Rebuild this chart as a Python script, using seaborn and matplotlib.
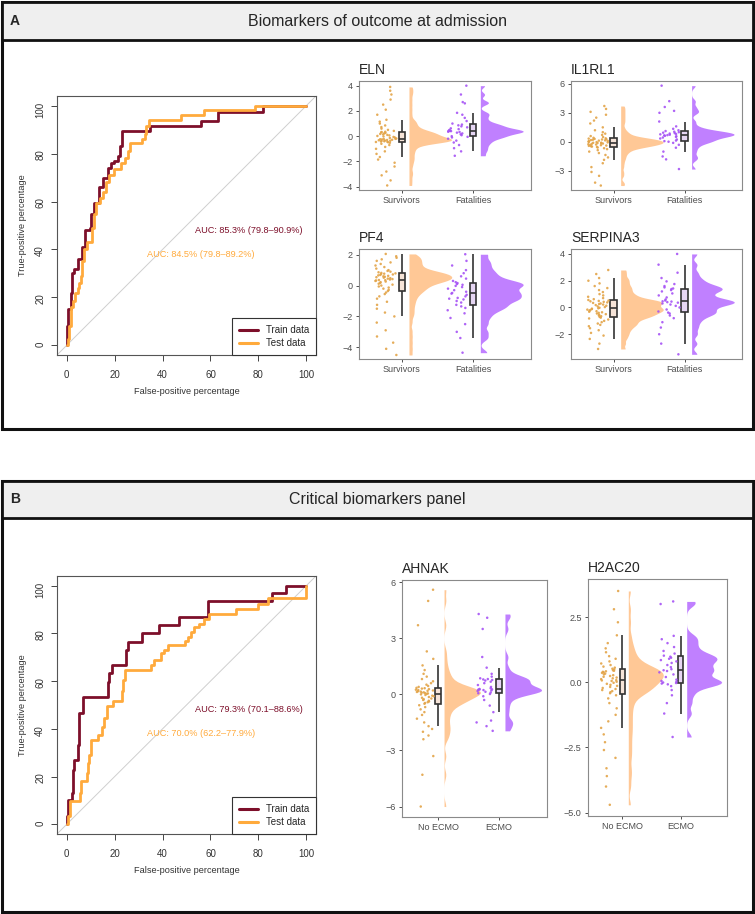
import numpy as np
import pandas as pd
import matplotlib

matplotlib.use("Agg")
import matplotlib.pyplot as plt
from matplotlib.lines import Line2D
from matplotlib.patches import Rectangle
import seaborn as sns

W, H = 755, 914

# ROC curves (percent)
roc_a_train_fpr = [0, 0, 0.4, 1.8, 2.2, 3.2, 4.6, 6.4, 7.8, 9.8, 10.2, 11.6, 13.6, 15.0, 17.1, 18.5, 19.9,
                   21.3, 22.3, 23.1, 34.8, 56.1, 63.1, 81.9, 100]
roc_a_train_tpr = [0, 8, 15, 22, 30, 32, 36, 41, 48, 49, 55, 59.5, 66, 70, 74, 76, 77,
                   79, 83, 89.5, 91.5, 93.5, 97.4, 100, 100]
roc_a_test_fpr = [0, 0.4, 0.8, 1.8, 2.8, 3.6, 4.6, 5.3, 6.0, 6.4, 7.4, 8.4, 10.6, 11.6, 12.3, 14.0, 15.0,
                  16.4, 17.5, 19.9, 22.7, 24.5, 25.5, 26.5, 31.5, 32.5, 33.1, 34.3, 47.8, 57.5, 78.4, 100]
roc_a_test_tpr = [0, 2.5, 8, 16, 18.5, 22, 24, 26, 29, 35, 40, 43, 49, 55, 59.5, 61.6, 64,
                  68, 71, 73.4, 76, 78, 81, 84.5, 86, 88, 91.5, 94, 96, 98, 100, 100]
roc_b_train_fpr = [0, 0, 0.4, 0.7, 2.2, 2.8, 3.2, 4.6, 5.0, 5.3, 6.7, 17.1, 17.8, 18.9, 24.8, 25.5,
                   31.5, 38.7, 46.8, 58.9, 85.8, 91.4, 100]
roc_b_train_tpr = [0, 3.5, 6.3, 10.4, 13.2, 22.9, 27.1, 33.4, 42.4, 46.6, 53.5, 59.8, 63.3, 66.8, 73, 76.5,
                   80, 83.4, 86.9, 93.6, 96.7, 100, 100]
roc_b_test_fpr = [0, 0.4, 1.4, 5.6, 6.0, 8.4, 8.8, 9.2, 10.2, 13.0, 14.8, 15.7, 16.7, 19.5, 23.1, 23.7, 24.5,
                  35.2, 36.6, 39.4, 40.8, 42.2, 49.2, 50.6, 51.9, 53.3, 55.4, 57.5, 59.3, 70.8, 79.8, 84.0, 100]
roc_b_test_tpr = [0, 3.5, 9.7, 13.2, 18, 21.5, 25.7, 29, 35.5, 37.5, 41, 44.5, 49.4, 51.5, 56, 60.5, 64.7,
                  66.8, 68.8, 71.6, 73, 75, 77, 78.6, 80.7, 82.7, 84, 86, 88, 90, 92.2, 94.6, 100]

auc_a = ["AUC: 85.3% (79.8\u201390.9%)", "AUC: 84.5% (79.8\u201389.2%)"]
auc_b = ["AUC: 79.3% (70.1\u201388.6%)", "AUC: 70.0% (62.2\u201377.9%)"]

# expression values per group (approximate, read from the rainclouds)
eln_surv = [-3.9, -3.5, -3.1, -2.8, -2.4, -2.1, -1.85, -1.65, -1.4, -1.2, -1.0, -0.85, -0.7, -0.6, -0.52,
            -0.48, -0.46, -0.44, -0.42, -0.4, -0.38, -0.36, -0.34, -0.32, -0.3, -0.28, -0.26, -0.24, -0.22, -0.21,
            -0.18, -0.14, -0.1, -0.06, -0.02, 0.02, 0.06, 0.1, 0.14, 0.18, 0.22, 0.26, 0.3, 0.33, 0.35,
            0.42, 0.5, 0.6, 0.72, 0.85, 1.0, 1.15, 1.3, 1.7, 2.1, 2.5, 2.9, 3.3, 3.6, 3.9]
eln_fat = [-1.55, -1.2, -0.95, -0.7, -0.5, -0.35, -0.2, -0.1, -0.05,
           0.0, 0.08, 0.15, 0.22, 0.28, 0.33, 0.36, 0.38, 0.4,
           0.42, 0.45, 0.5, 0.56, 0.62, 0.7, 0.78, 0.86, 0.92,
           1.0, 1.2, 1.45, 1.7, 1.85, 2.6, 2.7, 3.3, 4.0]
il1rl1_surv = [-4.5, -4.2, -3.5, -3.1, -2.6, -2.2, -1.85, -1.6, -1.35, -1.15, -1.0, -0.85, -0.75, -0.65, -0.58,
               -0.52, -0.48, -0.45, -0.41, -0.38, -0.34, -0.31, -0.27, -0.24, -0.2, -0.17, -0.14, -0.11, -0.09, -0.08,
               -0.05, -0.02, 0.01, 0.04, 0.07, 0.1, 0.13, 0.16, 0.19, 0.22, 0.25, 0.28, 0.31, 0.34, 0.37,
               0.42, 0.5, 0.6, 0.72, 0.85, 1.0, 1.2, 1.5, 1.9, 2.2, 2.5, 2.8, 3.1, 3.4, 3.7]
il1rl1_fat = [-2.8, -1.8, -1.5, -1.0, -0.6, -0.3, -0.1, 0.02, 0.08,
              0.14, 0.25, 0.35, 0.45, 0.52, 0.58, 0.63, 0.67, 0.7,
              0.74, 0.78, 0.82, 0.86, 0.9, 0.95, 1.0, 1.05, 1.12,
              1.2, 1.35, 1.6, 2.1, 3.0, 3.2, 3.6, 4.2, 5.8]
pf4_surv = [-4.5, -4.1, -3.7, -3.3, -2.9, -2.4, -2.0, -1.75, -1.5, -1.25, -1.05, -0.85, -0.7, -0.55, -0.45,
            -0.35, -0.28, -0.2, -0.13, -0.06, 0.0, 0.06, 0.12, 0.17, 0.22, 0.26, 0.3, 0.33, 0.35, 0.36,
            0.39, 0.42, 0.45, 0.48, 0.51, 0.54, 0.57, 0.6, 0.63, 0.66, 0.69, 0.72, 0.75, 0.77, 0.79,
            0.82, 0.86, 0.9, 0.95, 1.0, 1.1, 1.2, 1.3, 1.4, 1.5, 1.6, 1.7, 1.8, 1.9, 2.05]
pf4_fat = [-4.35, -3.4, -3.0, -2.5, -2.1, -1.8, -1.6, -1.45, -1.35,
           -1.25, -1.1, -1.0, -0.9, -0.85, -0.8, -0.7, -0.6, -0.52,
           -0.48, -0.4, -0.3, -0.2, -0.1, -0.02, 0.05, 0.1, 0.16,
           0.22, 0.3, 0.45, 0.6, 0.8, 1.0, 1.3, 1.6, 2.03]
serpina3_surv = [-3.1, -2.7, -2.35, -2.1, -1.9, -1.7, -1.55, -1.4, -1.3, -1.2, -1.1, -1.0, -0.9, -0.82, -0.76,
                 -0.7, -0.65, -0.6, -0.55, -0.5, -0.45, -0.4, -0.36, -0.32, -0.28, -0.24, -0.2, -0.16, -0.12, -0.09,
                 -0.06, -0.02, 0.03, 0.08, 0.13, 0.18, 0.22, 0.26, 0.3, 0.34, 0.38, 0.42, 0.46, 0.49, 0.52,
                 0.56, 0.62, 0.7, 0.8, 0.9, 1.0, 1.15, 1.3, 1.45, 1.6, 1.8, 2.0, 2.2, 2.5, 2.8]
serpina3_fat = [-3.5, -2.7, -2.0, -1.5, -1.1, -0.8, -0.6, -0.45, -0.38,
                -0.3, -0.15, 0.0, 0.12, 0.22, 0.3, 0.36, 0.4, 0.44,
                0.46, 0.52, 0.6, 0.75, 0.9, 1.05, 1.2, 1.3, 1.38,
                1.42, 1.5, 1.6, 1.75, 1.95, 2.2, 2.6, 3.2, 4.0]
ahnak_no_ecmo = [-6.0, -4.3, -3.3, -2.4, -2.2, -2.0, -1.85, -1.7, -1.5, -1.3, -1.1, -0.95, -0.8, -0.68, -0.58,
                 -0.5, -0.46, -0.42, -0.38, -0.34, -0.3, -0.26, -0.22, -0.18, -0.14, -0.1, -0.07, -0.03, 0.0, 0.03,
                 0.05, 0.07, 0.09, 0.11, 0.13, 0.15, 0.17, 0.19, 0.21, 0.23, 0.25, 0.28, 0.31, 0.33, 0.35,
                 0.4, 0.45, 0.52, 0.6, 0.7, 0.82, 0.95, 1.1, 1.3, 1.55, 1.9, 2.3, 3.7, 5.0, 5.6]
ahnak_ecmo = [-1.95, -1.7, -1.5, -1.4, -0.95, -0.6, -0.3, -0.1, 0.02,
              0.06, 0.1, 0.14, 0.18, 0.21, 0.23, 0.25, 0.26, 0.27,
              0.29, 0.33, 0.4, 0.5, 0.6, 0.68, 0.74, 0.77, 0.8,
              0.82, 0.86, 0.95, 1.1, 1.43, 2.0, 3.5, 4.1, 4.3]
h2ac20_no_ecmo = [-4.7, -4.0, -3.6, -3.3, -2.9, -2.6, -2.3, -2.0, -1.75, -1.5, -1.25, -1.0, -0.8, -0.62, -0.5,
                  -0.42, -0.38, -0.34, -0.3, -0.26, -0.22, -0.18, -0.14, -0.1, -0.06, -0.02, 0.02, 0.05, 0.07, 0.08,
                  0.12, 0.15, 0.18, 0.21, 0.24, 0.27, 0.3, 0.33, 0.36, 0.38, 0.4, 0.42, 0.44, 0.46, 0.49,
                  0.52, 0.56, 0.6, 0.66, 0.72, 0.8, 0.9, 1.0, 1.15, 1.3, 1.5, 1.8, 2.3, 2.8, 3.5]
h2ac20_ecmo = [-2.1, -1.2, -0.8, -0.5, -0.3, -0.15, -0.08, -0.05, -0.03,
               -0.01, 0.02, 0.05, 0.1, 0.2, 0.3, 0.38, 0.43, 0.46,
               0.5, 0.58, 0.66, 0.74, 0.8, 0.85, 0.9, 0.94, 0.98,
               1.02, 1.1, 1.2, 1.35, 1.5, 1.65, 1.78, 3.0, 3.1]

outcome_labels = ["Survivors", "Fatalities"]
ecmo_labels = ["No ECMO", "ECMO"]

TRAIN_COLOR = "#7d0f2a"
TEST_COLOR = "#ffaa3c"
POINT_COLORS = ["#e3a448", "#a653f5"]
CLOUD_COLORS = ["#ffc896", "#c080ff"]
BOX_FILLS = ["#f6e4d8", "#e6d6f3"]

np.random.seed(3)
sns.set_style("white")
plt.rcParams["font.family"] = ["Liberation Sans", "DejaVu Sans"]


def px_rect(x0, y0, x1, y1):
    return [x0 / W, 1 - y1 / H, (x1 - x0) / W, (y1 - y0) / H]


def draw_roc(fig, rect, tr_fpr, tr_tpr, te_fpr, te_tpr, auc_text):
    ax = fig.add_axes(px_rect(*rect))
    df = pd.concat([
        pd.DataFrame({"fpr": tr_fpr, "tpr": tr_tpr, "set": "Train data"}),
        pd.DataFrame({"fpr": te_fpr, "tpr": te_tpr, "set": "Test data"}),
    ])
    ax.axline((0, 0), (100, 100), color="#cfcfcf", lw=0.7, zorder=1)
    sns.lineplot(data=df, x="fpr", y="tpr", hue="set", palette={"Train data": TRAIN_COLOR, "Test data": TEST_COLOR},
                 estimator=None, sort=False, drawstyle="steps-post", linewidth=2, legend=False, ax=ax)
    ax.text(76, 48, auc_text[0], color=TRAIN_COLOR, fontsize=6.6, ha="center", va="center")
    ax.text(56, 38, auc_text[1], color=TEST_COLOR, fontsize=6.6, ha="center", va="center")
    ax.set_xlim(-4, 104)
    ax.set_ylim(-4, 104)
    ax.set_xticks(range(0, 101, 20))
    ax.set_yticks(range(0, 101, 20))
    ax.tick_params(length=4.5, width=0.7, color="#444444", labelsize=7, labelcolor="#333333", pad=6,
                   bottom=True, left=True)
    ax.tick_params(axis="y", labelrotation=90, pad=4)
    ax.set_xlabel("False-positive percentage", fontsize=6.6, color="#333333", labelpad=5)
    ax.set_ylabel("True-positive percentage", fontsize=6.6, color="#333333", labelpad=6)
    for sp in ax.spines.values():
        sp.set_color("#555555")
        sp.set_linewidth(0.8)
    handles = [Line2D([], [], color=TRAIN_COLOR, lw=2.2), Line2D([], [], color=TEST_COLOR, lw=2.2)]
    leg = ax.legend(handles, ["Train data", "Test data"], loc="lower right", borderaxespad=0, fancybox=False,
                    edgecolor="#333333", fontsize=7, handlelength=2.0, borderpad=0.7, labelspacing=0.3,
                    framealpha=1)
    leg.get_frame().set_linewidth(0.8)


def draw_raincloud(fig, rect, title, first, second, labels, ylim, yticks, ytick_labels, xlim):
    ax = fig.add_axes(px_rect(*rect))
    df = pd.DataFrame({
        "value": first + second,
        "group": [labels[0]] * len(first) + [labels[1]] * len(second),
        "idx": [0] * len(first) + [1] * len(second),
    })
    pts = dict(zip(labels, POINT_COLORS))
    fills = dict(zip(labels, BOX_FILLS))

    # half violins to the right of the boxes (seaborn spans pos +/- width/2 for a split half)
    for i, lab in enumerate(labels):
        sub = df[df["group"] == lab].assign(pos=i + 0.4, side="R")
        sns.violinplot(data=sub, x="pos", y="value", hue="side", hue_order=["L", "R"],
                       palette={"L": CLOUD_COLORS[i], "R": CLOUD_COLORS[i]}, split=True, inner=None, cut=0,
                       bw_adjust=0.3, density_norm="width", width=0.6, linewidth=0, saturation=1,
                       native_scale=True, dodge=False, legend=False, orient="x", ax=ax)

    sns.stripplot(data=df.assign(pos=df["idx"] - 0.22), x="pos", y="value", hue="group", palette=pts,
                  native_scale=True, jitter=0.15, size=1.8, linewidth=0, alpha=0.9, legend=False,
                  orient="x", ax=ax)
    sns.boxplot(data=df, x="idx", y="value", hue="group", palette=fills, native_scale=True, width=0.09,
                showfliers=False, showcaps=False, linecolor="#333333", linewidth=1.2, saturation=1,
                dodge=False, legend=False, orient="x", ax=ax)

    ax.set_xlim(*xlim)
    ax.set_ylim(*ylim)
    ax.set_xticks([0, 1], labels)
    ax.set_yticks(yticks, ytick_labels)
    ax.set_xlabel("")
    ax.set_ylabel("")
    ax.set_title(title, loc="left", fontsize=10, pad=5)
    ax.tick_params(length=2.5, width=0.6, color="#333333", labelsize=6.5, labelcolor="#4d4d4d", pad=2,
                   bottom=True, left=True)
    for sp in ax.spines.values():
        sp.set_color("#8a8a8a")
        sp.set_linewidth(0.8)


fig = plt.figure(figsize=(W / 100, H / 100), dpi=100)

# panel frames and headers
for top, bottom, head, letter, heading in [(2, 429, 40, "A", "Biomarkers of outcome at admission"),
                                           (481, 912, 518, "B", "Critical biomarkers panel")]:
    fig.patches.append(Rectangle((2 / W, 1 - bottom / H), 751 / W, (bottom - top) / H, transform=fig.transFigure,
                                 facecolor="none", edgecolor="#111111", linewidth=2.2, zorder=0))
    fig.patches.append(Rectangle((2 / W, 1 - head / H), 751 / W, (head - top) / H, transform=fig.transFigure,
                                 facecolor="#efefef", edgecolor="#111111", linewidth=2.0, zorder=0))
    mid = 1 - (top + head) / 2 / H
    fig.text(10 / W, mid, letter, fontsize=10, fontweight="bold", va="center", ha="left")
    fig.text(0.5, mid, heading, fontsize=11.5, va="center", ha="center")

draw_roc(fig, (57, 96, 316, 355), roc_a_train_fpr, roc_a_train_tpr, roc_a_test_fpr, roc_a_test_tpr, auc_a)
draw_roc(fig, (57, 576, 316, 834), roc_b_train_fpr, roc_b_train_tpr, roc_b_test_fpr, roc_b_test_tpr, auc_b)

xl_a = (-0.6, 1.81)
draw_raincloud(fig, (359, 81, 531, 190), "ELN", eln_surv, eln_fat, outcome_labels,
               (-4.26, 4.37), [-4, -2, 0, 2, 4], ["\u22124", "\u22122", "0", "2", "4"], xl_a)
draw_raincloud(fig, (571, 81, 742, 190), "IL1RL1", il1rl1_surv, il1rl1_fat, outcome_labels,
               (-4.96, 6.28), [-3, 0, 3, 6], ["\u22123", "0", "3", "6"], xl_a)
draw_raincloud(fig, (359, 249, 531, 359), "PF4", pf4_surv, pf4_fat, outcome_labels,
               (-4.76, 2.37), [-4, -2, 0, 2], ["\u22124", "\u22122", "0", "2"], xl_a)
draw_raincloud(fig, (571, 249, 742, 359), "SERPINA3", serpina3_surv, serpina3_fat, outcome_labels,
               (-3.85, 4.37), [-2, 0, 2, 4], ["\u22122", "0", "2", "4"], xl_a)

xl_b = (-0.59, 1.79)
draw_raincloud(fig, (402, 580, 547, 817), "AHNAK", ahnak_no_ecmo, ahnak_ecmo, ecmo_labels,
               (-6.56, 6.12), [-6, -3, 0, 3, 6], ["\u22126", "\u22123", "0", "3", "6"], xl_b)
draw_raincloud(fig, (588, 579, 727, 816), "H2AC20", h2ac20_no_ecmo, h2ac20_ecmo, ecmo_labels,
               (-5.13, 3.96), [-5, -2.5, 0, 2.5], ["\u22125.0", "\u22122.5", "0.0", "2.5"], xl_b)

fig.savefig("out.png", dpi=100)
